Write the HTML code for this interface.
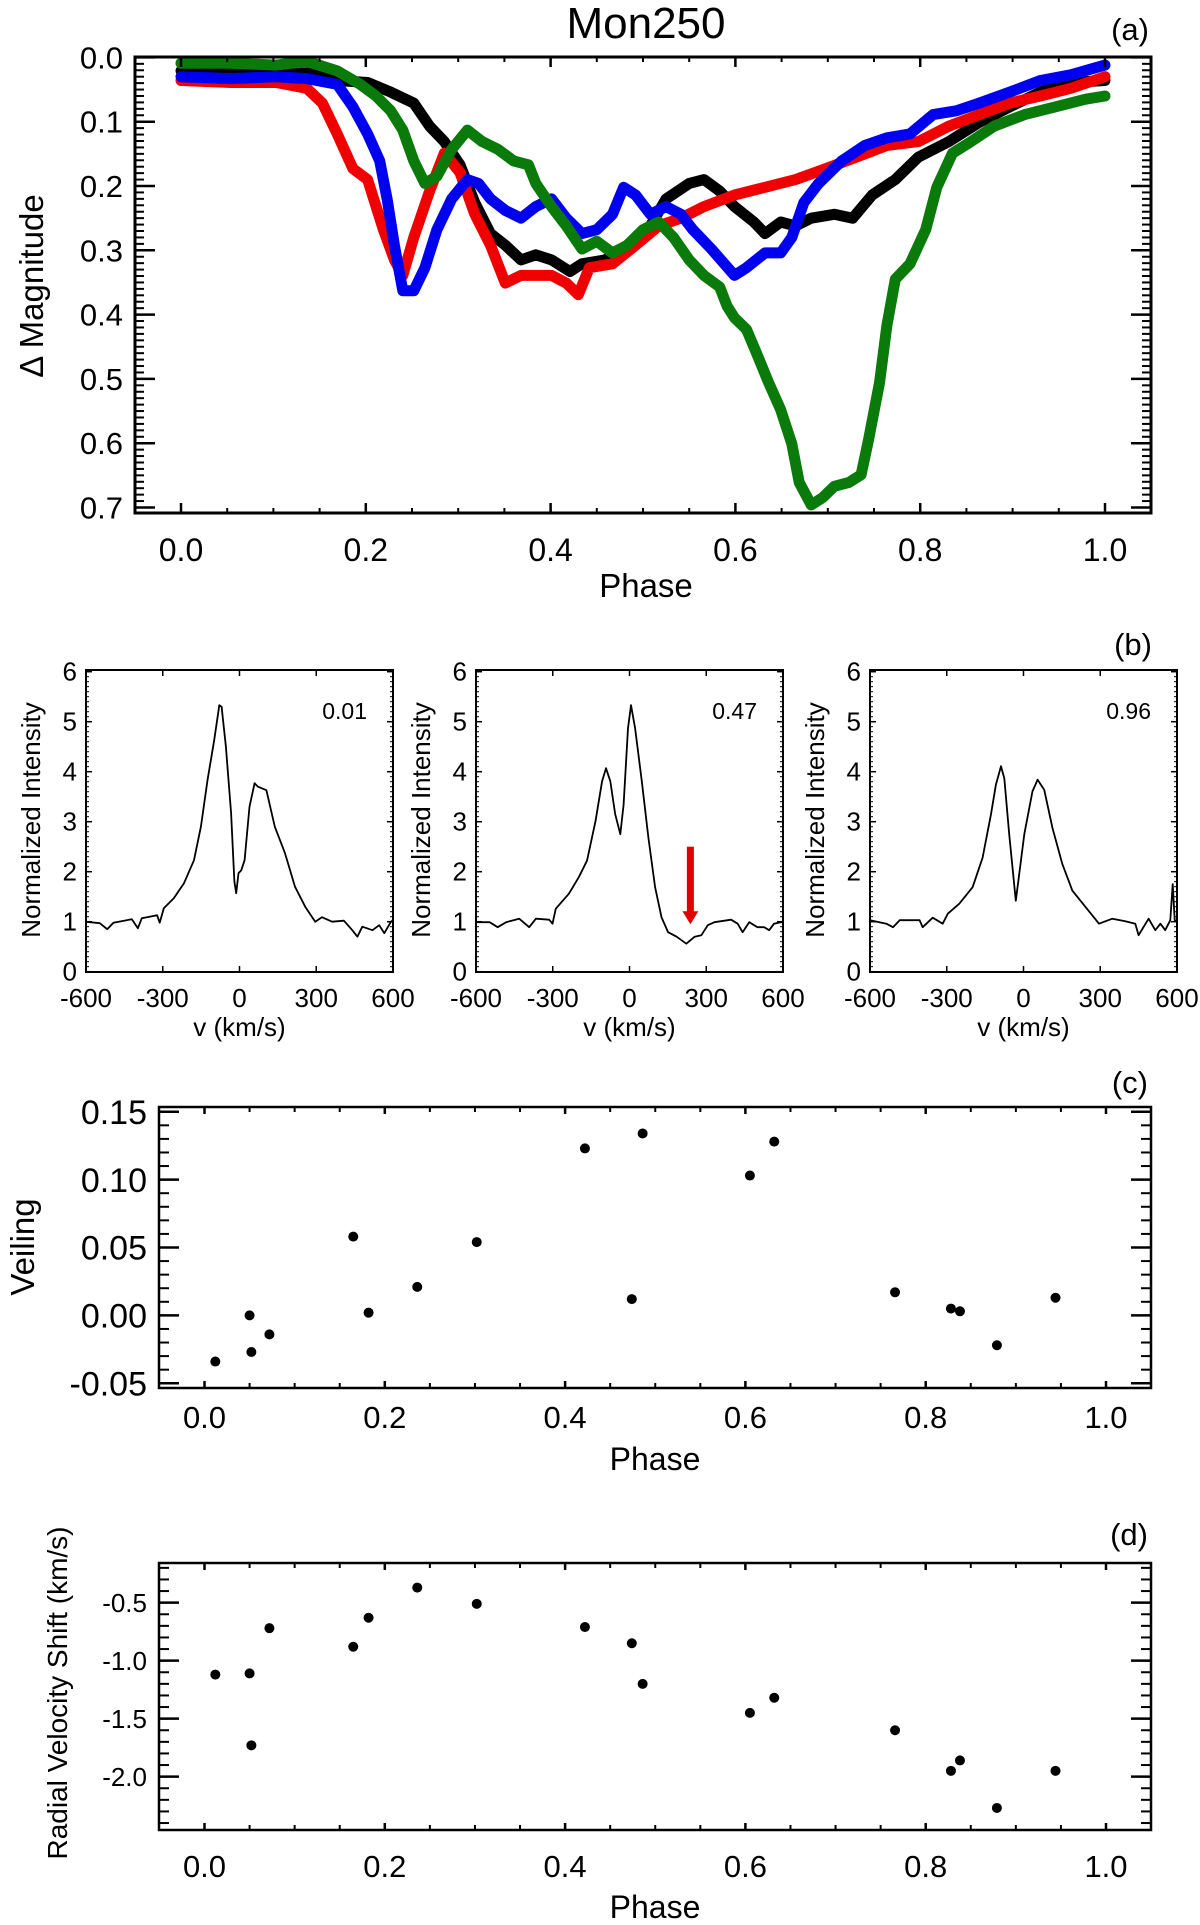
<!DOCTYPE html>
<html><head><meta charset="utf-8">
<style>
html,body{margin:0;padding:0;background:#fff;}
svg{display:block;font-family:"Liberation Sans",Arial,sans-serif;}
</style></head>
<body>
<svg id="fig" width="1200" height="1925" viewBox="0 0 1200 1925" xmlns="http://www.w3.org/2000/svg"></svg>
<script>
// ---------- Panel (a) light-curve data ----------
const blackPhase=[0,0.054,0.103,0.136,0.169,0.202,0.227,0.252,0.269,0.285,0.302,0.318,0.335,0.351,0.368,0.384,0.401,0.421,0.434,0.459,0.483,0.508,0.525,0.550,0.566,0.583,0.599,0.620,0.632,0.649,0.665,0.682,0.707,0.727,0.748,0.773,0.798,0.831,0.864,0.897,0.930,0.963,1.000];
const blackMag=[0.021,0.024,0.027,0.024,0.036,0.039,0.054,0.071,0.107,0.131,0.167,0.226,0.274,0.292,0.315,0.307,0.315,0.333,0.321,0.315,0.292,0.262,0.220,0.196,0.190,0.208,0.232,0.256,0.274,0.256,0.262,0.250,0.244,0.250,0.214,0.190,0.155,0.131,0.101,0.077,0.054,0.039,0.036];
const redPhase=[0,0.054,0.103,0.136,0.153,0.169,0.186,0.202,0.219,0.231,0.240,0.252,0.269,0.285,0.302,0.318,0.335,0.351,0.368,0.384,0.401,0.417,0.430,0.442,0.467,0.492,0.517,0.541,0.566,0.599,0.632,0.665,0.698,0.731,0.764,0.798,0.831,0.864,0.897,0.930,0.963,1.000];
const redMag=[0.036,0.039,0.039,0.048,0.071,0.119,0.173,0.190,0.268,0.315,0.339,0.280,0.208,0.149,0.179,0.244,0.292,0.351,0.339,0.339,0.339,0.351,0.369,0.327,0.321,0.292,0.262,0.250,0.232,0.214,0.202,0.190,0.173,0.155,0.137,0.131,0.107,0.089,0.071,0.060,0.048,0.030];
const bluePhase=[0,0.054,0.103,0.136,0.169,0.186,0.202,0.215,0.223,0.231,0.240,0.252,0.264,0.277,0.293,0.310,0.322,0.335,0.351,0.368,0.384,0.401,0.417,0.434,0.450,0.467,0.479,0.492,0.508,0.525,0.541,0.554,0.574,0.599,0.612,0.632,0.649,0.661,0.674,0.690,0.715,0.740,0.764,0.789,0.814,0.839,0.864,0.897,0.930,0.963,1.000];
const blueMag=[0.030,0.033,0.030,0.033,0.042,0.077,0.119,0.161,0.220,0.292,0.363,0.363,0.327,0.268,0.220,0.190,0.196,0.220,0.238,0.250,0.232,0.220,0.250,0.274,0.268,0.244,0.202,0.214,0.244,0.232,0.244,0.268,0.298,0.339,0.327,0.304,0.304,0.280,0.226,0.196,0.161,0.137,0.125,0.119,0.089,0.083,0.071,0.054,0.036,0.027,0.012];
const greenPhase=[0,0.054,0.103,0.136,0.169,0.194,0.211,0.227,0.240,0.252,0.264,0.277,0.293,0.310,0.326,0.343,0.360,0.376,0.384,0.401,0.417,0.434,0.450,0.467,0.483,0.500,0.517,0.533,0.550,0.566,0.583,0.591,0.599,0.612,0.624,0.636,0.649,0.661,0.669,0.682,0.694,0.707,0.723,0.736,0.744,0.756,0.764,0.773,0.789,0.806,0.818,0.835,0.855,0.880,0.913,0.946,0.979,1.000];
const greenMag=[0.009,0.009,0.012,0.006,0.021,0.042,0.060,0.083,0.113,0.161,0.196,0.185,0.143,0.113,0.131,0.143,0.161,0.167,0.196,0.232,0.262,0.298,0.286,0.304,0.292,0.268,0.256,0.280,0.315,0.339,0.357,0.387,0.405,0.423,0.464,0.506,0.548,0.601,0.661,0.696,0.685,0.667,0.661,0.649,0.595,0.506,0.417,0.345,0.321,0.268,0.202,0.149,0.131,0.107,0.089,0.077,0.065,0.060];
const aXTicks=["0.0","0.2","0.4","0.6","0.8","1.0"];
const aYTicks=["0.0","0.1","0.2","0.3","0.4","0.5","0.6","0.7"];

// ---------- Panel (b) spectra ----------
const spec1V=[-603,-546,-517,-493,-441,-421,-397,-382,-322,-312,-296,-257,-217,-178,-151,-125,-99,-79,-70,-53,-33,-20,-13,-4,7,20,39,59,72,105,138,178,217,257,296,322,362,408,441,461,480,520,546,566,592,600];
const spec1I=[1.0,0.97,0.85,0.98,1.03,1.05,0.87,1.07,1.13,0.98,1.27,1.47,1.77,2.23,2.9,3.83,4.63,5.33,5.3,4.5,3.17,1.8,1.57,1.97,2.03,2.23,3.3,3.77,3.7,3.63,2.9,2.37,1.7,1.3,1.0,1.09,1.0,1.02,0.83,0.7,0.9,0.83,0.93,0.77,1.0,1.03];
const spec2V=[-596,-547,-515,-482,-431,-392,-366,-314,-301,-288,-237,-198,-166,-133,-107,-92,-75,-56,-36,-23,-6,6,22,48,74,100,125,151,184,222,255,281,306,332,397,423,442,468,500,526,546,565,591,600];
const spec2I=[0.99,0.99,0.89,0.99,1.06,0.89,1.06,1.04,0.96,1.26,1.56,1.89,2.22,3.01,3.81,4.07,3.81,3.15,2.75,3.34,4.87,5.33,4.87,3.81,2.68,1.69,1.09,0.79,0.70,0.56,0.70,0.73,0.93,0.99,1.04,0.96,0.79,0.99,0.89,0.89,0.83,0.96,0.99,0.99];
const spec3V=[-600,-536,-510,-484,-406,-394,-355,-316,-296,-251,-199,-160,-127,-108,-88,-75,-56,-30,-17,3,35,55,81,113,152,191,243,295,347,398,437,450,489,515,535,554,574,583,591,600];
const spec3I=[1.03,0.96,0.89,1.03,1.03,0.89,1.08,0.96,1.16,1.36,1.69,2.28,3.15,3.74,4.11,3.87,2.75,1.42,1.95,2.75,3.61,3.84,3.64,2.88,2.15,1.62,1.29,0.96,1.06,1.01,0.96,0.73,1.06,0.83,0.96,0.83,1.03,1.75,1.03,1.0];
const specPhases=["0.01","0.47","0.96"];
const bXTicks=["-600","-300","0","300","600"];
const bYTicks=["0","1","2","3","4","5","6"];
const arrowV=[238], arrowTop=[2.5], arrowTip=[0.95];

// ---------- Panels (c) and (d) ----------
const obsPhase=[0.012,0.050,0.052,0.072,0.165,0.182,0.236,0.302,0.422,0.474,0.486,0.605,0.632,0.766,0.828,0.838,0.879,0.944];
const veiling=[-0.034,0.000,-0.027,-0.014,0.058,0.002,0.021,0.054,0.123,0.012,0.134,0.103,0.128,0.017,0.005,0.003,-0.022,0.013];
const rvShift=[-1.12,-1.11,-1.73,-0.72,-0.88,-0.63,-0.37,-0.51,-0.71,-0.85,-1.20,-1.45,-1.32,-1.60,-1.95,-1.86,-2.27,-1.95];
const cYTicks=["-0.05","0.00","0.05","0.10","0.15"];
const dYTicks=["-2.0","-1.5","-1.0","-0.5"];
const cdXTicks=["0.0","0.2","0.4","0.6","0.8","1.0"];

const NS="http://www.w3.org/2000/svg";
const svg=document.getElementById('fig');
function el(tag,attrs,parent){const e=document.createElementNS(NS,tag);for(const k in attrs)e.setAttribute(k,attrs[k]);(parent||svg).appendChild(e);return e;}
function lin(d0,d1,p0,p1){return v=>p0+(v-d0)*(p1-p0)/(d1-d0);}
function txt(x,y,s,fs,anchor,parent,extra){const t=el('text',Object.assign({x:x,y:y,'font-size':fs,'text-anchor':anchor||'middle',fill:'#000'},extra||{}),parent);t.textContent=s;return t;}

function frame(g,x0,y0,x1,y1,w){const r=el('rect',{x:x0,y:y0,width:x1-x0,height:y1-y0,fill:'none',stroke:'#000','stroke-width':w},g);

}
function yTicks(g,sy,x0,x1,vals,len,w){vals.forEach(v=>{const y=sy(v);
 const a=el('line',{x1:x0,y1:y,x2:x0+len,y2:y,stroke:'#000','stroke-width':w},g);
 
 
 const b=el('line',{x1:x1,y1:y,x2:x1-len,y2:y,stroke:'#000','stroke-width':w},g);
 
 });}
function xTicks(g,sx,y0,y1,vals,len,w){vals.forEach(v=>{const x=sx(v);
 const a=el('line',{x1:x,y1:y1,x2:x,y2:y1-len,stroke:'#000','stroke-width':w},g);
 
 
 const b=el('line',{x1:x,y1:y0,x2:x,y2:y0+len,stroke:'#000','stroke-width':w},g);
 
 });}
function range(a,b,s){const r=[];for(let v=a;v<=b+1e-9;v+=s)r.push(+v.toFixed(4));return r;}

// ================= PANEL A =================
(function(){
 const g=el('g',{});
 
 
 const L=135,R=1151,T=57,B=513;
 const sx=lin(0,1,181,1105), sy=lin(0,0.7,57.4,507.5);
 const t=txt(646,38,'Mon250',44,'middle',g);
 
 
 const pl=txt(1149,40,'(a)',31,'end',g);
 
 
 const series=[[blackPhase,blackMag,'#000','series-black'],[redPhase,redMag,'#f00000','series-red'],[bluePhase,blueMag,'#0000f0','series-blue'],[greenPhase,greenMag,'#0a7a0a','series-green']];
 series.forEach(s=>{const pts=s[0].map((p,i)=>sx(p).toFixed(1)+','+sy(s[1][i]).toFixed(1)).join(' ');
  const p=el('polyline',{points:pts,fill:'none',stroke:s[2],'stroke-width':11,'stroke-linejoin':'round','stroke-linecap':'round'},g);
  
  });
 frame(g,L,T,R,B,3);
 yTicks(g,sy,L,R,range(0,0.7,0.01),9,2);
 yTicks(g,sy,L,R,range(0,0.7,0.1),20,2.5);
 xTicks(g,sx,T,B,range(0,1,0.05),5,2);
 xTicks(g,sx,T,B,range(0,1,0.2),10,2.5);
 aYTicks.forEach(s=>{const l=txt(123,sy(parseFloat(s))+11,s,31,'end',g);
  
  });
 aXTicks.forEach(s=>{const l=txt(sx(parseFloat(s)),561,s,32,'middle',g);
  
  });
 const xt=txt(646,597,'Phase',33,'middle',g);
 
 
 const yt=txt(0,0,'Δ Magnitude',33,'middle',g,{transform:'translate(43,286) rotate(-90)'});
 
 
})();

// ================= PANEL B =================
(function(){
 const g=el('g',{});
 
 
 const pl=txt(1152,655,'(b)',31,'end',g);
 
 
 const lefts=[86,476,870], W=307, T=670, B=972;
 const specs=[[spec1V,spec1I],[spec2V,spec2I],[spec3V,spec3I]];
 lefts.forEach((L,k)=>{
  const sg=el('g',{},g);
  
  
  const R=L+W;
  const sx=lin(-600,600,L,R), sy=lin(0,6,971.7,671.7);
  const pts=specs[k][0].map((v,i)=>sx(v).toFixed(1)+','+sy(specs[k][1][i]).toFixed(1)).join(' ');
  const p=el('polyline',{points:pts,fill:'none',stroke:'#000','stroke-width':1.8,'stroke-linejoin':'round'},sg);
  
  
  frame(sg,L,T,R,B,2);
  yTicks(sg,sy,L,R,range(0,6,0.1),3,1);
  yTicks(sg,sy,L,R,range(0,6,1),6,1.5);
  xTicks(sg,sx,T,B,range(-600,600,300),6,1.5);
  bYTicks.forEach(s=>{const l=txt(L-9,sy(parseFloat(s))+9,s,26,'end',sg);
   
   });
  bXTicks.forEach(s=>{const l=txt(sx(parseFloat(s)),1007,s,26,'middle',sg);
   
   });
  const xt=txt(L+W/2,1036,'v (km/s)',26,'middle',sg);
  
  
  const yt=txt(0,0,'Normalized Intensity',26,'middle',sg,{transform:'translate('+(L-46)+',820) rotate(-90)'});
  
  
  const ph=txt(R-26,719,specPhases[k],23,'end',sg);
  
  
  if(k===1){
   const ax=sx(arrowV[0]), yt0=sy(arrowTop[0]), ytip=sy(arrowTip[0]);
   const sh=el('rect',{x:ax-3.5,y:yt0,width:7,height:(ytip-yt0)-12,fill:'#e00000'},sg);
   
   
   const hd=el('polygon',{points:(ax-8)+','+(ytip-13)+' '+(ax+8)+','+(ytip-13)+' '+ax+','+ytip,fill:'#e00000'},sg);
   
   
  }
 });
})();

// ================= PANELS C & D =================
function scatterPanel(name,label,labelY,T,B,ymin,ymax,yLabels,yMajor,yMinor,yvals,ytitle,ytitleX,ytitleY,ytitleFs,yLabFs,xLabY,xLabFs,phaseY){
 const g=el('g',{});
 
 
 const L=159,R=1151;
 const sx=lin(0,1,204.5,1106), sy=lin(ymin,ymax,B,T);
 const pl=txt(1148,labelY,label,31,'end',g);
 
 
 obsPhase.forEach((p,i)=>{const c=el('circle',{cx:sx(p),cy:sy(yvals[i]),r:5,fill:'#000'},g);
  
  });
 frame(g,L,T,R,B,2.5);
 yTicks(g,sy,L,R,yMinor,10,2);
 yTicks(g,sy,L,R,yMajor,20,2.5);
 xTicks(g,sx,T,B,range(0,1,0.05),5,2);
 xTicks(g,sx,T,B,range(0,1,0.2),7,2.5);
 yLabels.forEach(s=>{const l=txt(147,sy(parseFloat(s))+yLabFs*0.36,s,yLabFs,'end',g);
  
  });
 cdXTicks.forEach(s=>{const l=txt(sx(parseFloat(s)),xLabY,s,xLabFs,'middle',g);
  
  });
 const xt=txt(655,phaseY,'Phase',32,'middle',g);
 
 
 const yt=txt(0,0,ytitle,ytitleFs,'middle',g,{transform:'translate('+ytitleX+','+ytitleY+') rotate(-90)'});
 
 
}
const cMinor=[];for(let i=-5;i<=15;i++)cMinor.push(i/100);
const dMinor=[];for(let i=-24;i<=-2;i++)dMinor.push(i/10);
scatterPanel('panel-c-veiling','(c)',1093,1107,1388,-0.0535,0.1535,cYTicks,[-0.05,0,0.05,0.1,0.15],cMinor,veiling,'Veiling',34,1247,33,34,1428,31,1470);
scatterPanel('panel-d-radial-velocity','(d)',1545,1563,1830,-2.46,-0.158,dYTicks,[-2,-1.5,-1,-0.5],dMinor,rvShift,'Radial Velocity Shift (km/s)',67,1693,28,26,1877,31,1918);
</script>
</body></html>
